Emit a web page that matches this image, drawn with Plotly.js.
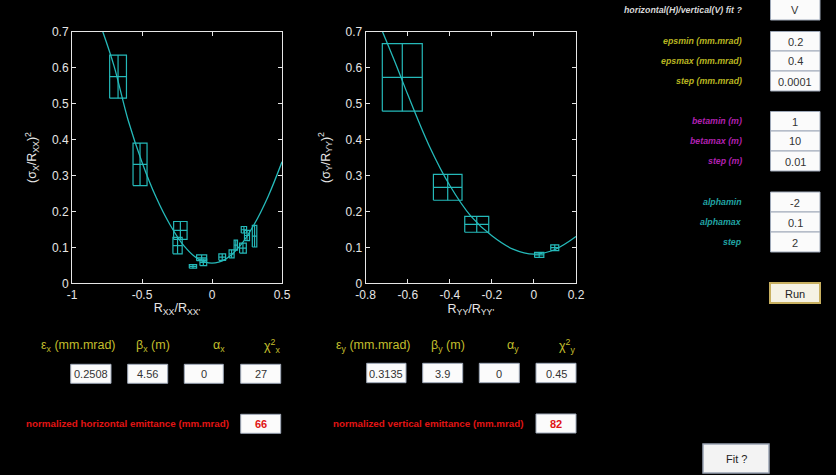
<!DOCTYPE html>
<html>
<head>
<meta charset="utf-8">
<script src="https://cdn.plot.ly/plotly-3.0.1.min.js"></script>
<style>html,body{margin:0;padding:0;background:#000;}#chart{width:836px;height:475px;}</style>
</head>
<body>
<div id="chart"></div>
<script>
// ---------- data ----------
// horizontal fit: measured points (R_xx/R_xx', (sigma_x/R_xx)^2) with box half-sizes
const hPtX  = [-0.671, -0.514, -0.226, -0.246, -0.136, -0.074, -0.062, 0.073, 0.140, 0.170, 0.221, 0.228, 0.250, 0.304];
const hPtY  = [0.575, 0.331, 0.147, 0.105, 0.047, 0.071, 0.058, 0.073, 0.082, 0.106, 0.098, 0.149, 0.133, 0.131];
const hErrX = [0.060, 0.050, 0.048, 0.033, 0.026, 0.036, 0.024, 0.024, 0.018, 0.012, 0.024, 0.019, 0.018, 0.016];
const hErrY = [0.060, 0.059, 0.025, 0.023, 0.005, 0.008, 0.009, 0.009, 0.011, 0.014, 0.014, 0.009, 0.014, 0.030];
// horizontal fitted curve
const hFitX = [-0.78, -0.70, -0.60, -0.50, -0.40, -0.30, -0.20, -0.10, 0.00, 0.10, 0.20, 0.30, 0.40, 0.50];
const hFitY = [0.700, 0.605, 0.455, 0.337, 0.240, 0.163, 0.104, 0.068, 0.056, 0.068, 0.104, 0.163, 0.241, 0.338];

// vertical fit: measured points
const vPtX  = [-0.626, -0.410, -0.272, 0.025, 0.099];
const vPtY  = [0.573, 0.267, 0.164, 0.079, 0.099];
const vErrX = [0.095, 0.068, 0.057, 0.022, 0.019];
const vErrY = [0.094, 0.036, 0.022, 0.007, 0.008];
// vertical fitted curve
const vFitX = [-0.72, -0.65, -0.60, -0.50, -0.40, -0.30, -0.20, -0.10, 0.00, 0.10, 0.20];
const vFitY = [0.700, 0.600, 0.525, 0.385, 0.272, 0.187, 0.132, 0.095, 0.081, 0.094, 0.130];

// axis ticks
const hTickVals = [-1, -0.5, 0, 0.5];
const hTickText = ['-1', '-0.5', '0', '0.5'];
const vTickVals = [-0.8, -0.6, -0.4, -0.2, 0, 0.2];
const vTickText = ['-0.8', '-0.6', '-0.4', '-0.2', '0', '0.2'];
const yTickVals = [0, 0.1, 0.2, 0.3, 0.4, 0.5, 0.6, 0.7];
const yTickText = ['0', '0.1', '0.2', '0.3', '0.4', '0.5', '0.6', '0.7'];

// GUI texts / values
const paramLabels = ['horizontal(H)/vertical(V) fit ?', 'epsmin (mm.mrad)', 'epsmax (mm.mrad)', 'step (mm.mrad)',
                     'betamin (m)', 'betamax (m)', 'step (m)', 'alphamin', 'alphamax', 'step'];
const paramValues = ['V', '0.2', '0.4', '0.0001', '1', '10', '0.01', '-2', '0.1', '2'];
const hResultHeads = ['ε<sub>x</sub> (mm.mrad)', 'β<sub>x</sub> (m)', 'α<sub>x</sub>', 'χ<sup>2</sup><sub>x</sub>'];
const hResultVals  = ['0.2508', '4.56', '0', '27'];
const vResultHeads = ['ε<sub>y</sub> (mm.mrad)', 'β<sub>y</sub> (m)', 'α<sub>y</sub>', 'χ<sup>2</sup><sub>y</sub>'];
const vResultVals  = ['0.3135', '3.9', '0', '0.45'];
const normLabels = ['normalized horizontal emittance (mm.mrad)', 'normalized vertical emittance (mm.mrad)'];
const normValues = ['66', '82'];

// ---------- helpers ----------
const W = 836, H = 475;
const fx = p => p / W;
const fy = p => 1 - p / H;
const FONT = 'Liberation Sans, Arial, sans-serif';
const CYAN = '#25b9b9';

function boxPath(xs, ys, dxs, dys) {
  const X = [], Y = [];
  for (let i = 0; i < xs.length; i++) {
    const x = xs[i], y = ys[i], dx = dxs[i], dy = dys[i];
    X.push(x - dx, x + dx, x + dx, x - dx, x - dx, null, x - dx, x + dx, null, x, x, null);
    Y.push(y - dy, y - dy, y + dy, y + dy, y - dy, null, y, y, null, y - dy, y + dy, null);
  }
  return {X, Y};
}
const hb = boxPath(hPtX, hPtY, hErrX, hErrY);
const vb = boxPath(vPtX, vPtY, vErrX, vErrY);

const traces = [
  {x: hFitX, y: hFitY, xaxis: 'x', yaxis: 'y', mode: 'lines', line: {color: CYAN, width: 1.3, shape: 'spline'}, hoverinfo: 'skip'},
  {x: hb.X, y: hb.Y, xaxis: 'x', yaxis: 'y', mode: 'lines', line: {color: CYAN, width: 1.2}, connectgaps: false, hoverinfo: 'skip'},
  {x: vFitX, y: vFitY, xaxis: 'x2', yaxis: 'y2', mode: 'lines', line: {color: CYAN, width: 1.3, shape: 'spline'}, hoverinfo: 'skip'},
  {x: vb.X, y: vb.Y, xaxis: 'x2', yaxis: 'y2', mode: 'lines', line: {color: CYAN, width: 1.2}, connectgaps: false, hoverinfo: 'skip'}
];

function axisCommon() {
  return {
    showline: true, linecolor: '#e6e6e6', linewidth: 1, mirror: 'ticks',
    ticks: 'inside', ticklen: 4, tickcolor: '#e6e6e6', tickwidth: 1,
    showgrid: false, zeroline: false, automargin: false,
    tickfont: {family: FONT, size: 12, color: '#e6e6e6'}, tickmode: 'array', fixedrange: true
  };
}

const shapes = [], annotations = [];
function inputBox(x0, x1, y0, y1) {
  shapes.push({type: 'rect', xref: 'paper', yref: 'paper', x0: fx(x0), x1: fx(x1), y0: fy(y1), y1: fy(y0),
               fillcolor: '#fbfbfb', line: {color: '#9ea8b8', width: 1}, layer: 'above'});
}
function txt(text, x, y, color, size, opts) {
  annotations.push(Object.assign({text: text, xref: 'paper', yref: 'paper', x: fx(x), y: fy(y),
    xanchor: 'center', yanchor: 'middle', showarrow: false,
    font: {family: FONT, size: size, color: color}}, opts || {}));
}

// right-hand parameter panel
const paramRows = [
  {y0: -1, y1: 20, c: '#d8d8d8'},
  {y0: 31.5, y1: 51, c: '#b9b520'}, {y0: 51, y1: 71, c: '#b9b520'}, {y0: 71, y1: 91, c: '#b9b520'},
  {y0: 111.5, y1: 131, c: '#b020b0'}, {y0: 131, y1: 151, c: '#b020b0'}, {y0: 151, y1: 171, c: '#b020b0'},
  {y0: 192, y1: 212, c: '#20a4a4'}, {y0: 212, y1: 232, c: '#20a4a4'}, {y0: 232, y1: 252, c: '#20a4a4'}
];
paramRows.forEach((r, i) => {
  inputBox(770.5, 820, r.y0, r.y1);
  const ym = (r.y0 + r.y1) / 2;
  txt(paramValues[i], 795, ym + 0.5, '#333', 11);
  txt('<b><i>' + paramLabels[i] + '</i></b>', 744, (i === 0 ? 10 : ym), r.c, 8.8, {xanchor: 'right'});
});

// Run button
shapes.push({type: 'rect', xref: 'paper', yref: 'paper', x0: fx(770), x1: fx(820), y0: fy(303), y1: fy(283),
             fillcolor: '#f5f2e4', line: {color: '#c8b060', width: 2}, layer: 'above'});
txt('Run', 795, 293.5, '#222', 11);

// Fit ? button
shapes.push({type: 'rect', xref: 'paper', yref: 'paper', x0: fx(703), x1: fx(769), y0: fy(473), y1: fy(444),
             fillcolor: '#f3f3f3', line: {color: '#9aa4b4', width: 1.5}, layer: 'above'});
txt('Fit ?', 736, 459, '#222', 11);

// result headings and boxes
const hHeadX = [78.5, 152.5, 218.5, 272];
const vHeadX = [373.5, 448, 513, 566.5];
const hBoxX = [[70.7, 111], [127.7, 167.7], [184.3, 223.3], [240.7, 280.7]];
const vBoxX = [[366.7, 406], [422.7, 462.7], [479.3, 519.3], [536, 576]];
const YEL = '#c2be2c';
for (let i = 0; i < 4; i++) {
  txt(hResultHeads[i], hHeadX[i], 346, YEL, 12.5);
  txt(vResultHeads[i], vHeadX[i], 346, YEL, 12.5);
  inputBox(hBoxX[i][0], hBoxX[i][1], 364.3, 383.3);
  inputBox(vBoxX[i][0], vBoxX[i][1], 363.3, 382.7);
  txt(hResultVals[i], (hBoxX[i][0] + hBoxX[i][1]) / 2, 374, '#333', 11);
  txt(vResultVals[i], (vBoxX[i][0] + vBoxX[i][1]) / 2, 373.5, '#333', 11);
}

// normalized emittance
const RED = '#e01414';
txt('<b>' + normLabels[0] + '</b>', 231, 423.5, RED, 9.8, {xanchor: 'right'});
txt('<b>' + normLabels[1] + '</b>', 526, 423, RED, 9.8, {xanchor: 'right'});
inputBox(240.7, 280.7, 414.3, 433.3);
inputBox(536, 576, 414, 433);
txt('<b>' + normValues[0] + '</b>', 260.7, 424, RED, 11);
txt('<b>' + normValues[1] + '</b>', 556, 423.5, RED, 11);

const layout = {
  width: W, height: H, margin: {l: 0, r: 0, t: 0, b: 0},
  paper_bgcolor: '#000', plot_bgcolor: '#000', showlegend: false,
  xaxis: Object.assign(axisCommon(), {domain: [fx(72), fx(282)], range: [-1, 0.5], anchor: 'y',
    tickvals: hTickVals, ticktext: hTickText,
    title: {text: 'R<sub>XX</sub>/R<sub>XX\'</sub>', font: {family: FONT, size: 12.5, color: '#e6e6e6'}, standoff: 2}}),
  yaxis: Object.assign(axisCommon(), {domain: [fy(283.3), fy(31.7)], range: [0, 0.7], anchor: 'x',
    tickvals: yTickVals, ticktext: yTickText,
    title: {text: '(σ<sub>X</sub>/R<sub>XX</sub>)<sup>2</sup>', font: {family: FONT, size: 12.5, color: '#e6e6e6'}, standoff: 12}}),
  xaxis2: Object.assign(axisCommon(), {domain: [fx(365.7), fx(576)], range: [-0.8, 0.2], anchor: 'y2',
    tickvals: vTickVals, ticktext: vTickText,
    title: {text: 'R<sub>YY</sub>/R<sub>YY\'</sub>', font: {family: FONT, size: 12.5, color: '#e6e6e6'}, standoff: 2}}),
  yaxis2: Object.assign(axisCommon(), {domain: [fy(283.3), fy(31.7)], range: [0, 0.7], anchor: 'x2',
    tickvals: yTickVals, ticktext: yTickText,
    title: {text: '(σ<sub>Y</sub>/R<sub>YY</sub>)<sup>2</sup>', font: {family: FONT, size: 12.5, color: '#e6e6e6'}, standoff: 12}}),
  shapes: shapes,
  annotations: annotations
};

Plotly.newPlot('chart', traces, layout, {displayModeBar: false, staticPlot: true});
</script>
</body>
</html>
